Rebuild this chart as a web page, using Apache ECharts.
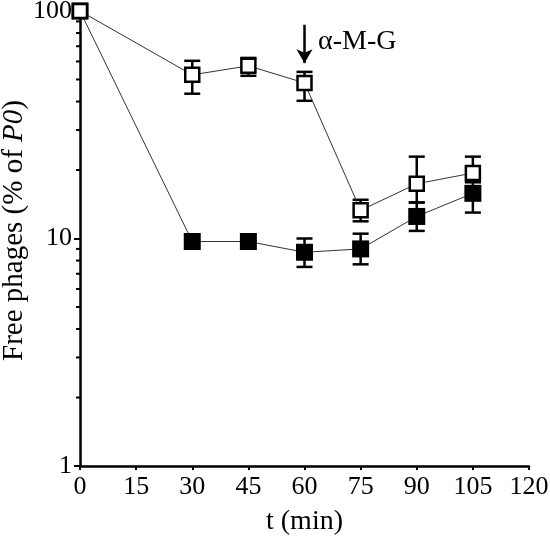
<!DOCTYPE html>
<html><head><meta charset="utf-8">
<script src="https://cdn.jsdelivr.net/npm/echarts@6/dist/echarts.min.js"></script>
<style>html,body{margin:0;padding:0;background:#fff}#c{width:550px;height:543px}</style>
</head><body><div id="c"></div>
<script>
const times = [0, 30, 45, 60, 75, 90, 105];
const openVals = [100, 52.4, 57.4, 48.3, 13.3, 17.4, 19.4];
const openLow  = [100, 43.3, 51.9, 40.3, 11.9, 14.4, 17.7];
const openHigh = [100, 60.4, 62.2, 54.0, 14.8, 22.9, 22.9];
const filledVals = [100, 9.7, 9.7, 8.7, 9.0, 12.5, 15.8];
const filledLow  = [100, 9.7, 9.7, 7.5, 7.7, 10.8, 13.0];
const filledHigh = [100, 9.7, 9.7, 10.0, 10.5, 14.4, 17.7];
const xTicks = [0, 15, 30, 45, 60, 75, 90, 105, 120];
const minorTickVals = [2,3,4,5,6,7,8,9,20,30,40,50,60,70,80,90];
const arrowX = 60, arrowFrom = 87, arrowTo = 59;
const annotationText = 'α-M-G';

const font = 'Liberation Serif';
const chart = echarts.init(document.getElementById('c'));

function errData(vals, lo, hi) {
  return times.map((t, i) => [t, lo[i], hi[i]]).filter(d => d[1] !== d[2]);
}
function errRender(params, api) {
  const x = api.value(0);
  const p1 = api.coord([x, api.value(1)]);
  const p2 = api.coord([x, api.value(2)]);
  const w = 8;
  const st = {stroke: '#000', lineWidth: 2.5, fill: null};
  return {type: 'group', children: [
    {type: 'line', shape: {x1: p1[0], y1: p1[1], x2: p2[0], y2: p2[1]}, style: st},
    {type: 'line', shape: {x1: p1[0]-w, y1: p1[1], x2: p1[0]+w, y2: p1[1]}, style: st},
    {type: 'line', shape: {x1: p2[0]-w, y1: p2[1], x2: p2[0]+w, y2: p2[1]}, style: st}
  ]};
}

chart.setOption({
  animation: false,
  backgroundColor: '#fff',
  grid: {left: 80, right: 21, top: 11, bottom: 77, containLabel: false, outerBoundsMode: 'none'},
  xAxis: {
    type: 'value', min: 0, max: 120, interval: 15,
    name: 't (min)', nameLocation: 'middle', nameGap: 42, nameMoveOverlap: false,
    nameTextStyle: {fontFamily: font, fontSize: 28, color: '#000'},
    axisLine: {lineStyle: {color: '#000', width: 2.5}},
    axisTick: {show: true, length: 4, lineStyle: {color: '#000', width: 2}},
    axisLabel: {fontFamily: font, fontSize: 26, color: '#000', margin: 8},
    splitLine: {show: false}
  },
  yAxis: {
    type: 'log', logBase: 10, min: 1, max: 100,
    name: '{a|Free phages (% of }{i|P0}{a|)}', nameLocation: 'middle', nameGap: 51, nameMoveOverlap: false,
    nameTextStyle: {padding: [0, 0, 0, 16], rich: {
      a: {fontFamily: font, fontSize: 29, color: '#000'},
      i: {fontFamily: font, fontSize: 29, color: '#000', fontStyle: 'italic'}
    }},
    axisLine: {show: true, lineStyle: {color: '#000', width: 2.5}},
    axisTick: {show: true, length: 6, lineStyle: {color: '#000', width: 2}},
    axisLabel: {fontFamily: font, fontSize: 26, color: '#000', margin: 8},
    splitLine: {show: false}
  },
  graphic: [{
    type: 'text', left: 318, top: 28,
    style: {text: annotationText, font: '28px "Liberation Serif"', fill: '#000'}
  }],
  series: [
    {
      type: 'custom', silent: true, clip: false, z: 1,
      data: minorTickVals.map(v => [0, v]),
      renderItem: (params, api) => {
        const p = api.coord([0, api.value(1)]);
        return {type: 'line', shape: {x1: p[0]-4, y1: p[1], x2: p[0], y2: p[1]},
                style: {stroke: '#000', lineWidth: 2}};
      }
    },
    {type: 'custom', z: 2, clip: false, data: errData(openVals, openLow, openHigh), renderItem: errRender},
    {type: 'custom', z: 2, clip: false, data: errData(filledVals, filledLow, filledHigh), renderItem: errRender},
    {
      type: 'line', z: 3, data: times.map((t, i) => [t, filledVals[i]]),
      symbol: 'rect', symbolSize: 17, showAllSymbol: true,
      lineStyle: {color: '#333', width: 1},
      itemStyle: {color: '#000', borderColor: '#000', borderWidth: 0}
    },
    {
      type: 'line', z: 4, data: times.map((t, i) => [t, openVals[i]]),
      symbol: 'rect', symbolSize: 14, showAllSymbol: true,
      lineStyle: {color: '#333', width: 1},
      itemStyle: {color: '#fff', borderColor: '#000', borderWidth: 2.5},
      markLine: {
        silent: true, symbol: ['none', 'arrow'], symbolSize: [12, 14],
        label: {show: false},
        lineStyle: {color: '#000', width: 2.5, type: 'solid'},
        data: [[{coord: [arrowX, arrowFrom]}, {coord: [arrowX, arrowTo]}]]
      }
    }
  ]
});
</script></body></html>
